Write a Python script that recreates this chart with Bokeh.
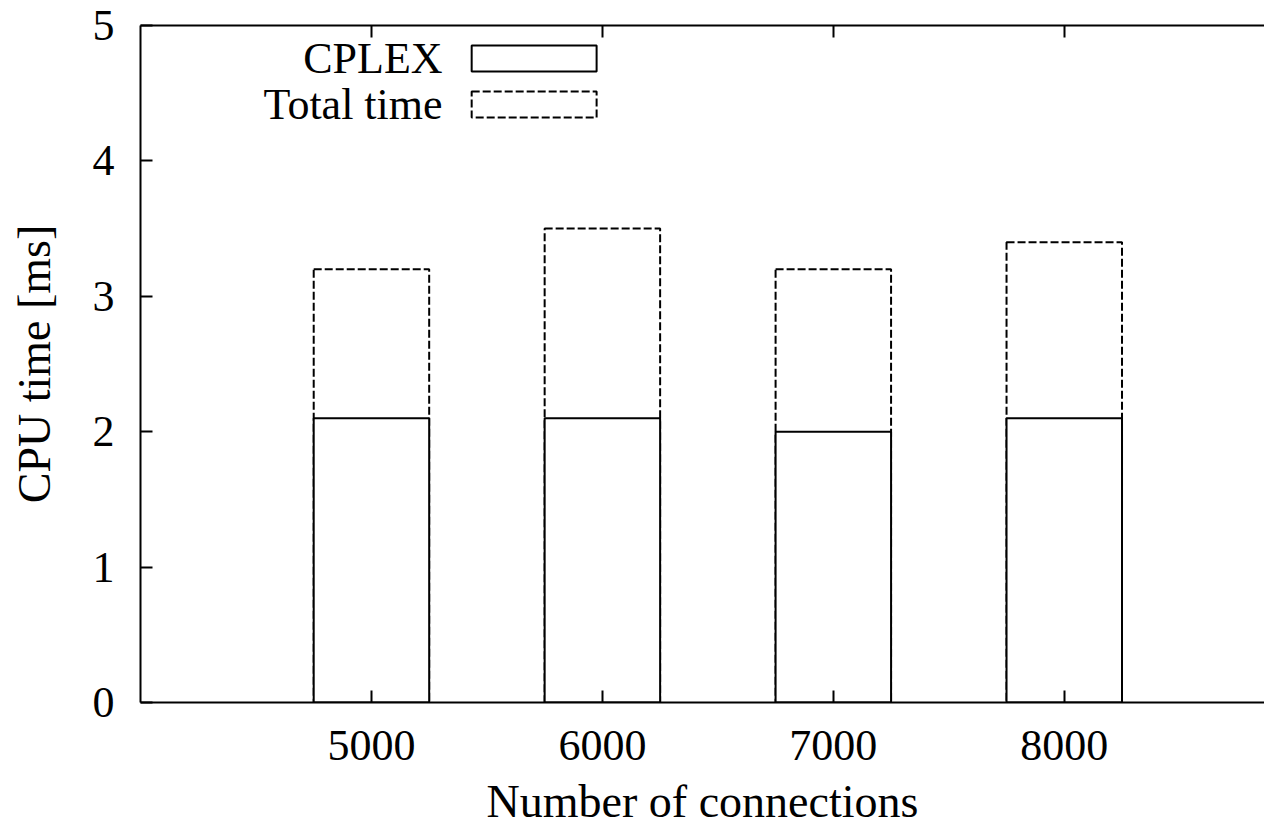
from bokeh.plotting import figure
from bokeh.models import FixedTicker, LinearAxis, Label, BoxAnnotation, ColumnDataSource
from bokeh.embed import file_html
from bokeh.resources import INLINE

connections = [5000, 6000, 7000, 8000]
cplex_ms = [2.1, 2.1, 2.0, 2.1]
total_ms = [3.2, 3.5, 3.2, 3.4]
y_ticks = [0, 1, 2, 3, 4, 5]
bar_width = 500

FONT = "Liberation Serif"
FS = "44px"
LABEL_FS = "46px"
DASH = "8 3"

src = ColumnDataSource(dict(
    left=[c - bar_width / 2 for c in connections],
    right=[c + bar_width / 2 for c in connections],
    cplex=cplex_ms,
    total=total_ms,
    zero=[0] * len(connections),
))

p = figure(width=1264, height=831, x_range=(4000, 8867), y_range=(0, 5),
           output_backend="svg", toolbar_location=None,
           min_border_left=140, min_border_top=25, min_border_right=0, min_border_bottom=129)
p.outline_line_color = None
p.grid.visible = False
p.background_fill_color = "white"
p.border_fill_color = "white"

# total time (dashed)
p.quad(left="left", right="right", bottom="zero", top="total", source=src,
       fill_color=None, line_color="black", line_width=2, line_dash=DASH)
# CPLEX (solid)
p.quad(left="left", right="right", bottom="zero", top="cplex", source=src,
       fill_color="white", line_color="black", line_width=2)

for ax in (p.xaxis[0], p.yaxis[0]):
    ax.axis_line_width = 2
    ax.axis_line_color = "black"
    ax.major_tick_line_width = 2
    ax.major_tick_line_color = "black"
    ax.major_tick_in = 12
    ax.major_tick_out = 0
    ax.minor_tick_line_color = None
    ax.major_label_text_font = FONT
    ax.major_label_text_font_size = FS
    ax.major_label_text_color = "black"
    ax.axis_label_text_font = FONT
    ax.axis_label_text_font_size = LABEL_FS
    ax.axis_label_text_font_style = "normal"
    ax.axis_label_text_color = "black"

p.xaxis[0].ticker = FixedTicker(ticks=connections)
p.yaxis[0].ticker = FixedTicker(ticks=y_ticks)
p.xaxis[0].axis_label = "Number of connections"
p.yaxis[0].axis_label = "CPU time [ms]"
p.xaxis[0].major_label_standoff = 28
p.yaxis[0].major_label_standoff = 26
p.xaxis[0].axis_label_standoff = 13
p.yaxis[0].axis_label_standoff = 30

top = LinearAxis(ticker=FixedTicker(ticks=connections))
top.axis_line_width = 2
top.axis_line_color = "black"
top.major_tick_line_width = 2
top.major_tick_line_color = "black"
top.major_tick_in = 12
top.major_tick_out = 0
top.minor_tick_line_color = None
top.major_label_overrides = {t: "" for t in connections}
top.major_label_text_font_size = "1px"
top.major_label_standoff = 0
p.add_layout(top, "above")

# legend (gnuplot style: text on left, sample on right)
legend_items = [("CPLEX", 4.756, 4.852, 4.660, "solid"),
                ("Total time", 4.417, 4.513, 4.320, DASH)]
for name, yc, yt, yb, dash in legend_items:
    p.add_layout(Label(x=5308, y=yc, text=name, text_align="right", text_baseline="middle",
                       text_font=FONT, text_font_size=FS, text_color="black"))
    p.add_layout(BoxAnnotation(left=5434, right=5975, bottom=yb, top=yt,
                               fill_color=None, fill_alpha=0, line_color="black",
                               line_alpha=1.0, line_width=2, line_dash=dash))

open("out.html", "w").write(file_html(p, INLINE))
